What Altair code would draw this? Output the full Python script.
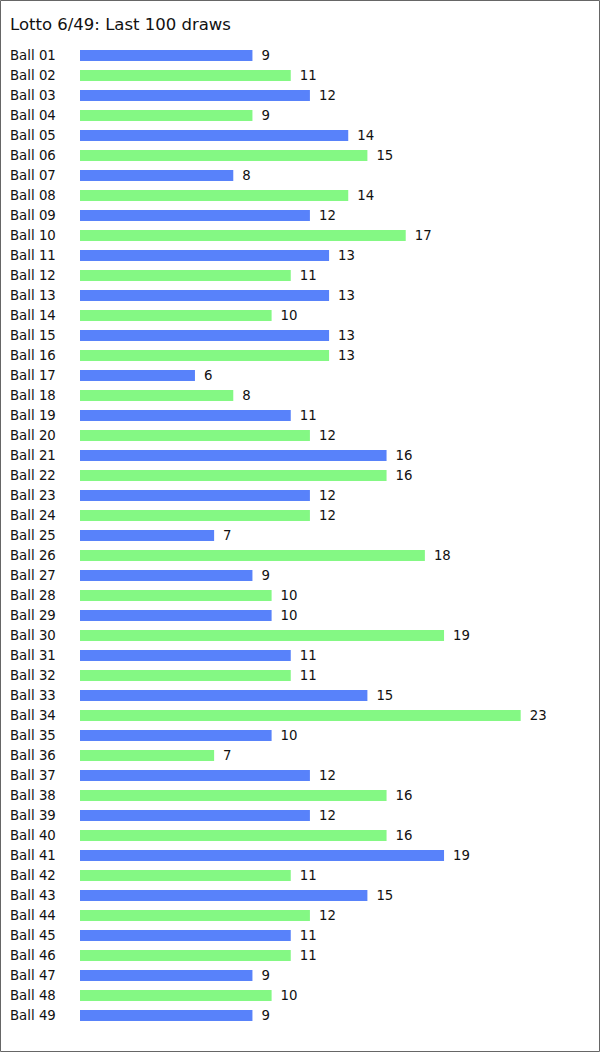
import altair as alt
import pandas as pd

title_text = "Lotto 6/49: Last 100 draws"
balls = [f"Ball {i:02d}" for i in range(1, 50)]
counts = [9, 11, 12, 9, 14, 15, 8, 14, 12, 17,
          13, 11, 13, 10, 13, 13, 6, 8, 11, 12,
          16, 16, 12, 12, 7, 18, 9, 10, 10, 19,
          11, 11, 15, 23, 10, 7, 12, 16, 12, 16,
          19, 11, 15, 12, 11, 11, 9, 10, 9]
parity = ["odd" if i % 2 == 1 else "even" for i in range(1, 50)]

df = pd.DataFrame({"ball": balls, "count": counts, "parity": parity})

W, H = 479, 981
PAD = {"left": 80, "top": 45, "right": 600 - 80 - W, "bottom": 1052 - 45 - H}
FONT = "DejaVu Sans"

xs = alt.Scale(domain=[0, 25], nice=False, zero=True)
ys = alt.Scale(domain=balls, paddingInner=0.45, paddingOuter=0.25)

base = alt.Chart(df)

bars = base.mark_bar().encode(
    x=alt.X("count:Q", scale=xs, axis=None),
    y=alt.Y("ball:N", scale=ys, axis=None, sort=balls),
    color=alt.Color("parity:N",
                    scale=alt.Scale(domain=["odd", "even"], range=["#5882fa", "#84f884"]),
                    legend=None),
)

vals = base.mark_text(align="left", baseline="middle", dx=9, font=FONT, fontSize=13.3, color="#111").encode(
    x=alt.X("count:Q", scale=xs, axis=None),
    y=alt.Y("ball:N", scale=ys, axis=None, sort=balls),
    text="count:Q",
)

names = base.mark_text(align="left", baseline="middle", font=FONT, fontSize=13.3, color="#111").encode(
    x=alt.value(-70),
    y=alt.Y("ball:N", scale=ys, axis=None, sort=balls),
    text="ball:N",
)

title = alt.Chart(pd.DataFrame({"t": [title_text]})).mark_text(
    align="left", baseline="alphabetic", font=FONT, fontSize=16.5, color="#111"
).encode(x=alt.value(-70), y=alt.value(-15), text="t:N")

border = alt.Chart(pd.DataFrame({"a": [0]})).mark_rect(
    fill=None, stroke="#666666", strokeWidth=1
).encode(
    x=alt.value(-PAD["left"] + 0.5),
    x2=alt.value(W + PAD["right"] - 0.5),
    y=alt.value(-PAD["top"] + 0.5),
    y2=alt.value(H + PAD["bottom"] - 0.5),
)

chart = alt.layer(bars, vals, names, title, border).properties(
    width=W, height=H, padding=PAD, autosize=alt.AutoSizeParams(type="none"),
    background="white",
).configure_view(stroke=None)

chart.save("out.html", embed_options={"renderer": "svg", "actions": False})
